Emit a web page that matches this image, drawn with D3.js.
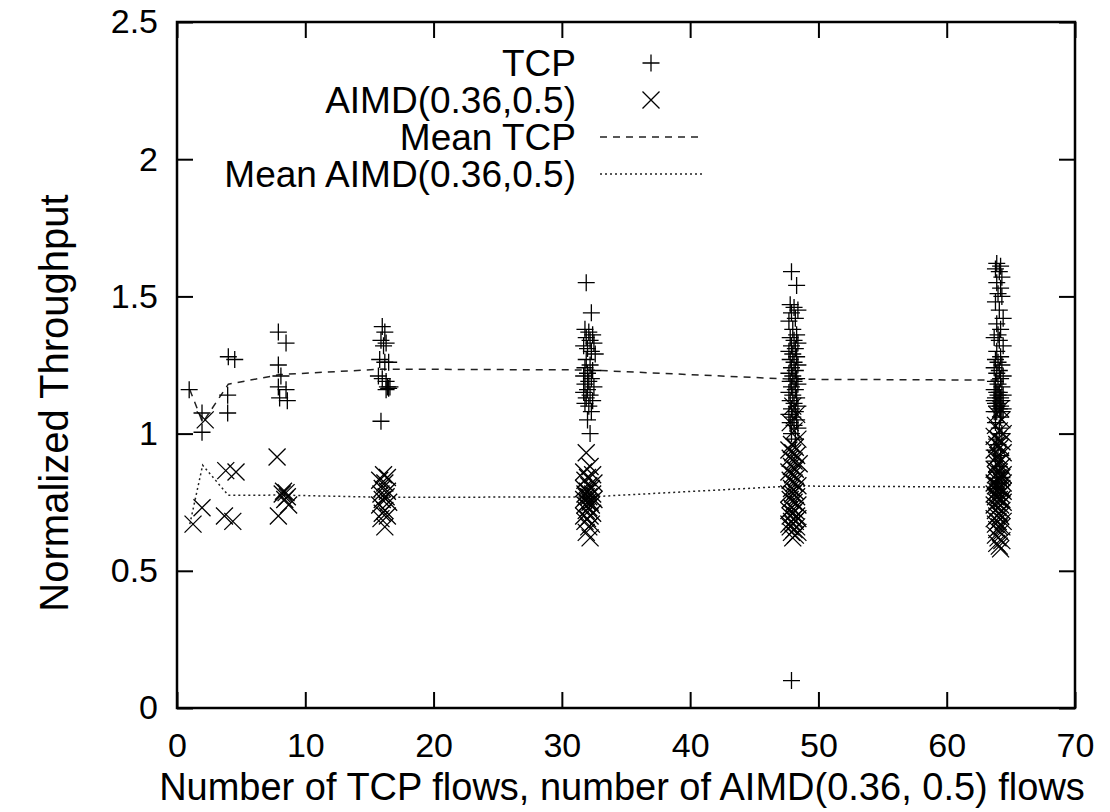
<!DOCTYPE html>
<html>
<head>
<meta charset="utf-8">
<script src="https://cdn.jsdelivr.net/npm/d3@7/dist/d3.min.js"></script>
<style>
  body { margin: 0; background: #fff; }
  text { font-family: "Liberation Sans", Arial, Helvetica, sans-serif; fill: #000; }
</style>
</head>
<body>
<svg id="chart"></svg>
<script>
// tick values
const xTicks = [0, 10, 20, 30, 40, 50, 60, 70];
const yTicks = [0, 0.5, 1, 1.5, 2, 2.5];

// mean lines, one point per flow count
const meanX = [1, 2, 4, 8, 16, 32, 48, 64];
const meanTcp = [1.16, 1.04, 1.18, 1.215, 1.235, 1.232, 1.198, 1.195];
const meanAimd = [0.67, 0.885, 0.775, 0.776, 0.768, 0.769, 0.809, 0.805];

// per-flow normalized throughput, [flows, value]
const tcpPoints = [
  [0.95, 1.16],
  [1.95, 1.075], [1.95, 1.005],
  [4.0, 1.28], [4.5, 1.27], [3.95, 1.14], [3.95, 1.075],
  [7.9, 1.37], [8.5, 1.33], [7.9, 1.25], [8.1, 1.21], [7.9, 1.17], [8.5, 1.16], [8.0, 1.13], [8.6, 1.12],
  [16.0, 1.39], [16.2, 1.37], [15.9, 1.34], [16.3, 1.33], [16.1, 1.32], [15.8, 1.27], [16.5, 1.26], [16.2, 1.26],
  [15.7, 1.21], [16.0, 1.20], [16.3, 1.19], [16.4, 1.17], [16.6, 1.17], [16.5, 1.165], [16.3, 1.16], [15.9, 1.045],
  [31.9, 1.55], [32.3, 1.44], [31.8, 1.38], [32.1, 1.37], [32.4, 1.36], [31.9, 1.35], [32.2, 1.34], [32.5, 1.33],
  [31.7, 1.32], [32.0, 1.31], [32.3, 1.30], [32.6, 1.29], [31.9, 1.27], [32.2, 1.25], [31.8, 1.24], [32.4, 1.23],
  [32.0, 1.22], [31.7, 1.21], [32.3, 1.20], [32.1, 1.19], [31.8, 1.18], [32.5, 1.17], [32.0, 1.16], [31.7, 1.15],
  [32.2, 1.14], [31.9, 1.13], [32.4, 1.12], [31.8, 1.11], [32.1, 1.10], [32.3, 1.08], [32.0, 1.05], [32.2, 1.00],
  [47.9, 1.59], [48.3, 1.54], [47.8, 1.47], [48.1, 1.46], [48.4, 1.45], [47.9, 1.44], [48.2, 1.42], [47.7, 1.41],
  [48.0, 1.38], [48.3, 1.36], [47.8, 1.35], [48.1, 1.34], [48.4, 1.33], [47.9, 1.32], [48.2, 1.31], [47.7, 1.30],
  [48.0, 1.29], [48.3, 1.28], [47.8, 1.27], [48.1, 1.26], [48.4, 1.25], [47.9, 1.24], [48.2, 1.23], [47.7, 1.22],
  [48.0, 1.21], [48.3, 1.20], [47.8, 1.19], [48.1, 1.19], [48.4, 1.18], [47.9, 1.17], [48.2, 1.16], [47.7, 1.15],
  [48.0, 1.14], [48.3, 1.13], [47.8, 1.12], [48.1, 1.11], [48.4, 1.10], [47.9, 1.09], [48.2, 1.08], [47.7, 1.07],
  [48.0, 1.06], [48.3, 1.05], [47.8, 1.04], [48.1, 1.03], [48.4, 1.02], [47.9, 1.00], [48.2, 0.98], [47.9, 0.10],
  [63.9, 1.62], [64.2, 1.61], [63.8, 1.60], [64.1, 1.59], [64.3, 1.57], [63.9, 1.55], [64.2, 1.53], [64.0, 1.51],
  [64.3, 1.50], [63.8, 1.48], [64.1, 1.45], [64.4, 1.42], [63.9, 1.40], [64.2, 1.38], [64.0, 1.36], [63.7, 1.35],
  [64.1, 1.34], [64.4, 1.32], [63.9, 1.30], [64.2, 1.28], [63.8, 1.27], [64.0, 1.26], [64.3, 1.25], [63.7, 1.24],
  [64.1, 1.23], [63.9, 1.22], [64.4, 1.21], [64.2, 1.20], [63.8, 1.19], [64.0, 1.18], [64.3, 1.17], [63.7, 1.16],
  [64.1, 1.15], [63.9, 1.15], [64.4, 1.14], [64.0, 1.14], [63.8, 1.13], [64.2, 1.13], [63.7, 1.12], [64.3, 1.12],
  [64.0, 1.11], [63.8, 1.11], [64.2, 1.10], [63.9, 1.10], [64.4, 1.09], [64.1, 1.09], [63.7, 1.08], [64.3, 1.08],
  [63.9, 1.08], [64.2, 1.06], [63.8, 1.04], [64.1, 1.02], [64.3, 1.00], [63.9, 0.98], [64.0, 0.96], [63.7, 0.94],
  [64.2, 0.92], [63.8, 0.90], [64.1, 0.88], [63.9, 0.86], [64.3, 0.84], [64.0, 0.82], [63.8, 0.80], [64.2, 0.78]
];

const aimdPoints = [
  [1.25, 0.67],
  [2.2, 1.05], [1.95, 0.73],
  [3.8, 0.865], [4.6, 0.86], [3.7, 0.70], [4.35, 0.68],
  [7.8, 0.915], [8.3, 0.79], [8.5, 0.785], [8.2, 0.78], [8.6, 0.77], [8.4, 0.76], [8.7, 0.74], [7.9, 0.70],
  [16.1, 0.85], [16.4, 0.84], [15.8, 0.83], [16.2, 0.82], [16.0, 0.80], [16.4, 0.79], [15.9, 0.78], [16.3, 0.77],
  [16.0, 0.76], [16.5, 0.75], [15.8, 0.74], [16.2, 0.72], [16.0, 0.71], [16.4, 0.70], [15.9, 0.69], [16.2, 0.66],
  [31.9, 0.93], [32.2, 0.88], [31.7, 0.86], [32.4, 0.85], [32.0, 0.84], [31.8, 0.83], [32.5, 0.82], [32.1, 0.81],
  [31.7, 0.80], [32.3, 0.80], [32.0, 0.79], [31.8, 0.78], [32.4, 0.78], [32.1, 0.77], [31.9, 0.77], [32.5, 0.76],
  [31.7, 0.76], [32.2, 0.75], [32.0, 0.75], [31.8, 0.74], [32.3, 0.74], [32.1, 0.73], [31.9, 0.72], [32.4, 0.71],
  [31.7, 0.70], [32.2, 0.70], [32.0, 0.69], [31.8, 0.68], [32.3, 0.67], [32.1, 0.66], [31.9, 0.64], [32.2, 0.62],
  [48.0, 1.10], [48.3, 1.07], [47.8, 1.04], [48.1, 1.01], [48.4, 0.98], [47.9, 0.96], [48.2, 0.95], [47.7, 0.94],
  [48.0, 0.93], [48.3, 0.92], [47.8, 0.91], [48.1, 0.90], [48.5, 0.89], [47.9, 0.88], [48.2, 0.87], [47.7, 0.86],
  [48.0, 0.85], [48.3, 0.84], [47.8, 0.83], [48.1, 0.82], [48.4, 0.81], [47.9, 0.80], [48.2, 0.79], [47.7, 0.78],
  [48.0, 0.78], [48.3, 0.77], [47.8, 0.76], [48.1, 0.75], [48.4, 0.74], [47.9, 0.73], [48.2, 0.72], [47.7, 0.72],
  [48.0, 0.71], [48.3, 0.70], [47.8, 0.70], [48.1, 0.69], [48.4, 0.69], [47.9, 0.68], [48.2, 0.68], [47.7, 0.67],
  [48.0, 0.67], [48.3, 0.66], [47.8, 0.66], [48.1, 0.65], [48.4, 0.64], [47.9, 0.64], [48.2, 0.63], [48.0, 0.62],
  [64.2, 1.09], [63.9, 1.07], [64.3, 1.05], [63.8, 1.03], [64.1, 1.01], [64.4, 1.00], [63.7, 0.99], [64.0, 0.98],
  [64.3, 0.97], [63.9, 0.96], [64.2, 0.95], [63.7, 0.94], [64.4, 0.93], [64.0, 0.92], [63.8, 0.91], [64.2, 0.90],
  [63.9, 0.89], [64.3, 0.88], [63.7, 0.87], [64.1, 0.86], [64.4, 0.85], [63.8, 0.85], [64.0, 0.84], [64.3, 0.84],
  [63.9, 0.83], [64.2, 0.83], [63.7, 0.82], [64.4, 0.82], [64.0, 0.81], [63.8, 0.81], [64.3, 0.80], [64.1, 0.80],
  [63.9, 0.79], [64.4, 0.79], [63.7, 0.78], [64.2, 0.78], [64.0, 0.77], [63.8, 0.77], [64.3, 0.76], [64.1, 0.76],
  [63.9, 0.75], [64.4, 0.75], [63.7, 0.74], [64.2, 0.74], [64.0, 0.73], [63.8, 0.72], [64.3, 0.72], [64.1, 0.71],
  [63.9, 0.70], [64.2, 0.70], [63.7, 0.69], [64.4, 0.68], [64.0, 0.68], [63.8, 0.67], [64.3, 0.66], [64.1, 0.66],
  [63.9, 0.65], [64.2, 0.64], [63.8, 0.63], [64.0, 0.62], [64.3, 0.61], [63.9, 0.60], [64.1, 0.59], [64.2, 0.58]
];

const legendLabels = ['TCP', 'AIMD(0.36,0.5)', 'Mean TCP', 'Mean AIMD(0.36,0.5)'];

const width = 1110;
const height = 812;
const margin = { top: 22, right: 35, bottom: 104, left: 177 };
const chartWidth = width - margin.left - margin.right;
const chartHeight = height - margin.top - margin.bottom;

const svg = d3.select('#chart').attr('width', width).attr('height', height);

const x = d3.scaleLinear().domain([0, 70]).range([0, chartWidth]);
const y = d3.scaleLinear().domain([0, 2.5]).range([chartHeight, 0]);

const g = svg.append('g').attr('transform', `translate(${margin.left},${margin.top})`);

// markers
const half = 8.5;
const plusPath = `M${-half},0H${half}M0,${-half}V${half}`;
const crossPath = `M${-half},${-half}L${half},${half}M${-half},${half}L${half},${-half}`;

// axes, ticks pointing inward on all four sides
const tickLen = 16;
const styleAxis = sel => {
  sel.select('.domain').remove();
  sel.selectAll('.tick line').attr('stroke', '#000').attr('stroke-width', 2);
  sel.selectAll('.tick text').style('font-size', '34px').attr('fill', '#000');
};

g.append('g')
  .attr('transform', `translate(0,${chartHeight})`)
  .call(d3.axisBottom(x).tickValues(xTicks).tickSize(-tickLen).tickPadding(25).tickFormat(d3.format('d')))
  .call(styleAxis);

g.append('g')
  .call(d3.axisTop(x).tickValues(xTicks).tickSize(-tickLen).tickFormat(''))
  .call(styleAxis);

g.append('g')
  .call(d3.axisLeft(y).tickValues(yTicks).tickSize(-tickLen).tickPadding(19).tickFormat(d => d))
  .call(styleAxis);

g.append('g')
  .attr('transform', `translate(${chartWidth},0)`)
  .call(d3.axisRight(y).tickValues(yTicks).tickSize(-tickLen).tickFormat(''))
  .call(styleAxis);

// mean lines
const meanLine = vals => d3.line().x((d, i) => x(meanX[i])).y(d => y(d))(vals);

g.append('path')
  .attr('d', meanLine(meanTcp))
  .attr('fill', 'none')
  .attr('stroke', '#222')
  .attr('stroke-width', 1.5)
  .attr('stroke-dasharray', '7,6');

g.append('path')
  .attr('d', meanLine(meanAimd))
  .attr('fill', 'none')
  .attr('stroke', '#222')
  .attr('stroke-width', 1.5)
  .attr('stroke-dasharray', '2,3');

// scatter
g.selectAll('.tcp')
  .data(tcpPoints)
  .enter()
  .append('path')
  .attr('class', 'tcp')
  .attr('transform', d => `translate(${x(d[0])},${y(d[1])})`)
  .attr('d', plusPath)
  .attr('stroke', '#000')
  .attr('stroke-width', 1.3)
  .attr('fill', 'none');

g.selectAll('.aimd')
  .data(aimdPoints)
  .enter()
  .append('path')
  .attr('class', 'aimd')
  .attr('transform', d => `translate(${x(d[0])},${y(d[1])})`)
  .attr('d', crossPath)
  .attr('stroke', '#000')
  .attr('stroke-width', 1.3)
  .attr('fill', 'none');

// frame
g.append('rect')
  .attr('width', chartWidth)
  .attr('height', chartHeight)
  .attr('fill', 'none')
  .attr('stroke', '#000')
  .attr('stroke-width', 2.5);

// legend
const legendTextX = 576;
const legendBase = [76, 113, 150, 187];
const legendSampleX = 651;

legendLabels.forEach((label, i) => {
  svg.append('text')
    .attr('x', legendTextX)
    .attr('y', legendBase[i])
    .style('text-anchor', 'end')
    .style('font-size', '37px')
    .text(label);
});

const cy = i => legendBase[i] - 13;
svg.append('path')
  .attr('transform', `translate(${legendSampleX},${cy(0)})`)
  .attr('d', plusPath).attr('stroke', '#000').attr('stroke-width', 1.3);
svg.append('path')
  .attr('transform', `translate(${legendSampleX},${cy(1)})`)
  .attr('d', crossPath).attr('stroke', '#000').attr('stroke-width', 1.3);
svg.append('line')
  .attr('x1', 600).attr('x2', 698).attr('y1', cy(2)).attr('y2', cy(2))
  .attr('stroke', '#222').attr('stroke-width', 1.5).attr('stroke-dasharray', '7,6');
svg.append('line')
  .attr('x1', 600).attr('x2', 702).attr('y1', cy(3)).attr('y2', cy(3))
  .attr('stroke', '#222').attr('stroke-width', 1.5).attr('stroke-dasharray', '2,3');

// axis titles
svg.append('text')
  .attr('x', 622)
  .attr('y', 800)
  .style('text-anchor', 'middle')
  .style('font-size', '38px')
  .text('Number of TCP flows, number of AIMD(0.36, 0.5) flows');

svg.append('text')
  .attr('transform', 'rotate(-90)')
  .attr('x', -403)
  .attr('y', 68)
  .style('text-anchor', 'middle')
  .style('font-size', '40px')
  .text('Normalized Throughput');
</script>
</body>
</html>
